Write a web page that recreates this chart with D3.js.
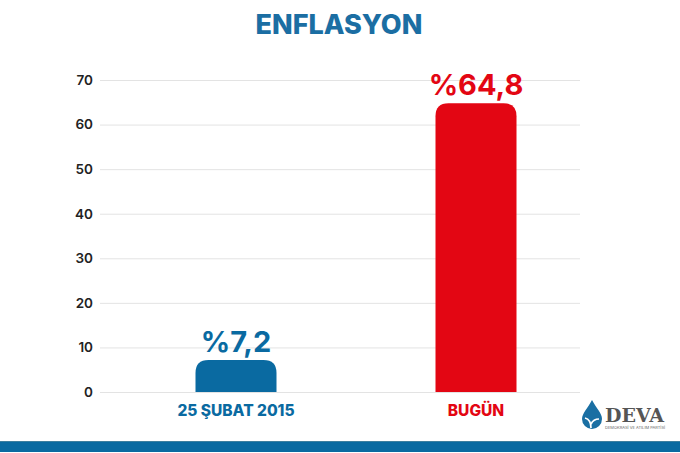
<!DOCTYPE html>
<html><head><meta charset="utf-8">
<script src="https://cdn.jsdelivr.net/npm/d3@7"></script>
<style>html,body{margin:0;padding:0;background:#fff;}svg{display:block;}</style>
</head><body>
<script>
const categories = ["25 ŞUBAT 2015", "BUGÜN"];
const values = [7.2, 64.8];
const valueLabels = ["%7,2", "%64,8"];
const barColors = ["#0a6aa1", "#e30613"];
const yTicks = [0, 10, 20, 30, 40, 50, 60, 70];
const title = "ENFLASYON";

const W = 680, H = 453;
const svg = d3.select("body").append("svg").attr("width", W).attr("height", H);
const font = "Inter, 'Open Sans', sans-serif";

const y = d3.scaleLinear().domain([0, 70]).range([392, 80]);
const x = d3.scaleBand().domain(categories).range([116, 596]).paddingInner(0.6625).paddingOuter(0.33125);

// grid + y axis
const yAxis = d3.axisLeft(y).tickValues(yTicks).tickSize(-480).tickPadding(7).tickFormat(d3.format("d"));
const gAxis = svg.append("g").attr("transform", "translate(100,0)").call(yAxis);
gAxis.select(".domain").remove();
gAxis.selectAll(".tick line").attr("stroke", "#e3e3e3").attr("stroke-width", 1);
gAxis.selectAll(".tick text").attr("fill", "#222").attr("font-family", font).attr("font-weight", 600).attr("font-size", 13.5);

// title
svg.append("text").attr("x", 339).attr("y", 34).attr("text-anchor", "middle")
  .attr("font-family", font).attr("font-weight", 800).attr("font-size", 27)
  .attr("fill", "#1b6ea3").text(title);

// bars with rounded top corners
function topRounded(x0, y0, w, h, r) {
  r = Math.min(r, h, w / 2);
  return `M${x0},${y0 + h}V${y0 + r}Q${x0},${y0} ${x0 + r},${y0}H${x0 + w - r}Q${x0 + w},${y0} ${x0 + w},${y0 + r}V${y0 + h}Z`;
}
svg.append("g").selectAll("path").data(categories).join("path")
  .attr("d", (c, i) => topRounded(x(c), y(values[i]), x.bandwidth(), y(0) - y(values[i]), 13))
  .attr("fill", (c, i) => barColors[i]);

// value labels
svg.append("g").selectAll("text").data(categories).join("text")
  .attr("x", c => x(c) + x.bandwidth() / 2)
  .attr("y", (c, i) => y(values[i]) - 8)
  .attr("text-anchor", "middle").attr("font-family", font).attr("font-weight", 700).attr("font-size", 29)
  .attr("fill", (c, i) => barColors[i]).text((c, i) => valueLabels[i]);

// category labels
svg.append("g").selectAll("text").data(categories).join("text")
  .attr("x", c => x(c) + x.bandwidth() / 2)
  .attr("y", 416)
  .attr("text-anchor", "middle").attr("font-family", font).attr("font-weight", 800).attr("font-size", 15.5)
  .attr("fill", (c, i) => barColors[i]).text(c => c);

// logo
const logo = svg.append("g");
logo.append("path")
  .attr("d", "M592,400 C588,408 582,413 582,419 A10,10 0 0 0 602,419 C602,413 596,408 592,400 Z")
  .attr("fill", "#1a6fa3");
logo.append("path").attr("d", "M591,428 C591,422 589,419 585,418 M591,424 C593,420 596,419 599,419")
  .attr("stroke", "#fff").attr("stroke-width", 1.7).attr("fill", "none");
logo.append("text").attr("x", 605).attr("y", 422).attr("font-family", "'DejaVu Serif', serif")
  .attr("font-weight", 700).attr("font-size", 19).attr("fill", "#555").text("DEVA");
logo.append("text").attr("x", 605).attr("y", 429).attr("font-family", font)
  .attr("font-size", 4).attr("fill", "#666").text("DEMOKRASİ VE ATILIM PARTİSİ");

// bottom stripe
svg.append("rect").attr("x", 0).attr("y", 441).attr("width", W).attr("height", 11).attr("fill", "#0a6aa1");
svg.append("rect").attr("x", 0).attr("y", 441).attr("width", W).attr("height", 1).attr("fill", "#3d7f9f");
</script>
</body></html>
